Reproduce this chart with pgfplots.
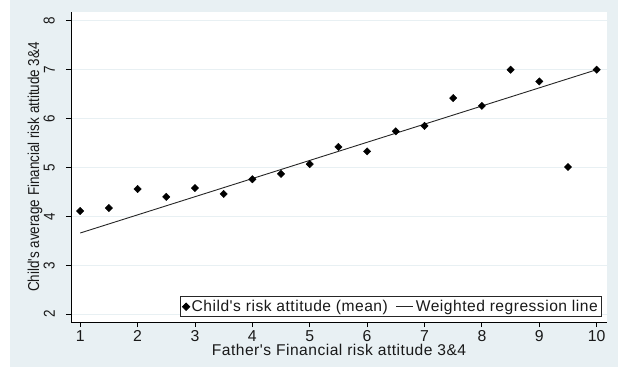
\documentclass[border=0pt]{standalone}
\usepackage{pgfplots}
\pgfplotsset{compat=1.18}
\usepackage{fontspec}
\setmainfont{Liberation Sans}
\newfontfamily\lblfont{Liberation Sans}[LetterSpace=3.2]
\newfontfamily\rotfont{Liberation Sans}[FakeStretch=0.85]
\definecolor{bgc}{RGB}{232,240,243}
\definecolor{gridc}{RGB}{232,240,243}
\definecolor{txt}{RGB}{25,25,25}
\begin{document}
\begin{tikzpicture}
\useasboundingbox (0pt,0pt) rectangle (618pt,367pt);
\fill[white] (0pt,0pt) rectangle (618pt,367pt);
\fill[bgc] (10pt,0pt) rectangle (618pt,367pt);
\begin{axis}[
  at={(71pt,45pt)}, anchor=south west,
  scale only axis, width=536pt, height=310pt,
  xmin=0.84, xmax=10.18, ymin=1.84, ymax=8.18,
  axis x line*=bottom, axis y line*=left,
  axis line style={black, line width=0.9pt},
  axis background/.style={fill=white},
  xtick={1,...,10}, ytick={2,...,8},
  tick align=outside, major tick length=5pt,
  every tick/.style={black, line width=0.9pt},
  /pgf/number format/assume math mode=true,
  ticklabel style={font=\fontsize{15.8}{16}\selectfont, text=txt},
  yticklabel style={xshift=-11pt, rotate=90, anchor=south, inner sep=0pt, font=\rotfont\fontsize{15.8}{16}\selectfont},
  xticklabel style={inner sep=0pt, yshift=-3pt},
  ymajorgrids,
  grid style={gridc, line width=1.2pt},
  xlabel={Father's Financial risk attitude 3\&4},
  ylabel={Child's average Financial risk attitude 3\&4},
  xlabel style={font=\lblfont\fontsize{15.6}{16}\selectfont, text=txt, at={(axis description cs:0.5,-0.071)}, anchor=north, inner sep=0pt},
  ylabel style={font=\rotfont\fontsize{15.8}{16}\selectfont, text=txt, at={(axis description cs:-0.067,0.5)}, anchor=center},
  legend style={at={(0.99,0.016)}, anchor=south east, draw=black!85, line width=0.8pt,
    font=\lblfont\fontsize{15.6}{16}\selectfont, text=txt, inner sep=1.5pt},
  legend columns=2,
  legend cell align=left,
  /tikz/every even column/.append style={column sep=6pt},
  clip=false,
]
\addplot[only marks, mark=square*, mark size=2.6pt, mark options={rotate=45, fill=black, draw=black}]
coordinates {
(1,4.11) (1.5,4.17) (2,4.56) (2.5,4.40) (3,4.58) (3.5,4.46) (4,4.76) (4.5,4.87)
(5,5.07) (5.5,5.42) (6,5.33) (6.5,5.74) (7,5.85) (7.5,6.42) (8,6.26) (8.5,7.00)
(9,6.76) (9.5,5.01) (10,7.00)
};
\addlegendentry{Child's risk attitude (mean)}
\addplot[black!85, line width=0.9pt] coordinates {(1,3.66) (10,7.00)};
\addlegendentry{Weighted regression line}
\end{axis}
\end{tikzpicture}
\end{document}
